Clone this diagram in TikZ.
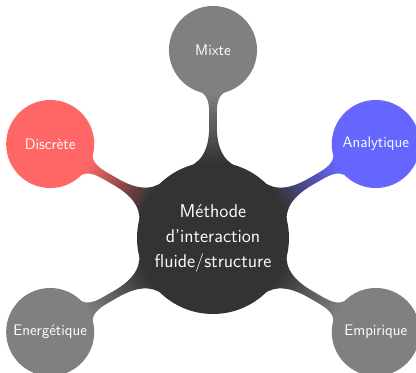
\documentclass[tikz,border=0pt]{standalone}
\usetikzlibrary{mindmap}
\begin{document}
\begin{tikzpicture}
\useasboundingbox (-5.665,-3.590) rectangle (5.399,6.330);
\clip (-5.665,-3.590) rectangle (5.399,6.330);
\begin{scope}[mindmap, concept color=black!80, text=white,
  every node/.style={concept},
  rootfont/.style={font=\sffamily\fontsize{14}{19}\selectfont},
  level 1 concept/.append style={level distance=5cm, minimum size=2.3cm, text width=2.1cm, font=\sffamily\fontsize{11.6}{14}\selectfont}]
\node (root) [concept, minimum size=4cm, text width=3.4cm, rootfont] {Méthode d'interaction fluide/structure}
  child[grow=90, concept color=black!50] {node (mixte) [concept] {Mixte}}
  child[grow=150, concept color=red!60] {node (discrete) [concept] {Discrète}}
  child[grow=210, concept color=black!50] {node (energetique) [concept] {Energétique}}
  child[grow=330, concept color=black!50] {node (empirique) [concept] {Empirique}}
  child[grow=30, concept color=blue!60] {node (analytique) [concept] {Analytique}};
\end{scope}
\end{tikzpicture}
\end{document}
